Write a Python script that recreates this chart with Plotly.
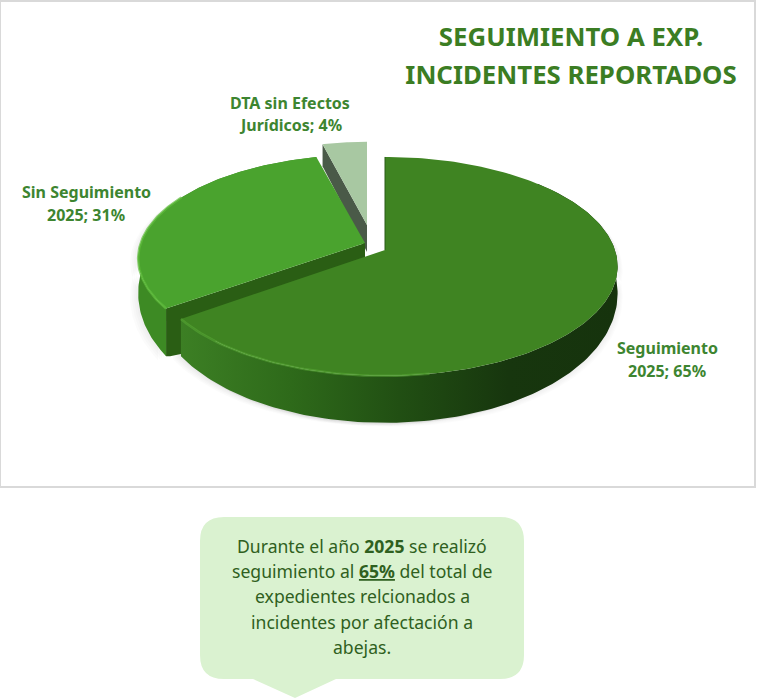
import numpy as np
import plotly.graph_objects as go

categories = ["Seguimiento 2025", "Sin Seguimiento 2025", "DTA sin Efectos Jurídicos"]
values = [65, 31, 4]
label_lines = [["Seguimiento", "2025; 65%"], ["Sin Seguimiento", "2025; 31%"], ["DTA sin Efectos", "Jurídicos; 4%"]]
title_lines = "SEGUIMIENTO A EXP.<br>INCIDENTES REPORTADOS"
note_lines = [
    "Durante el año <b>2025</b> se realizó",
    "seguimiento al <b><u>65%</u></b> del total de",
    "expedientes relcionados a",
    "incidentes por afectación a",
    "abejas.",
]

GREEN = "#3b7d23"
LABEL_GREEN = "#3d8530"
FONT = "Noto Sans"
AX, BY, K = 230.0, 107.0, 0.15


def rim(theta, cx, cy, sx=1.0, sy=1.0, depth=0.0):
    u, v = np.sin(theta), np.cos(theta)
    w = 1 + K * v
    x = cx + sx * AX * u / w
    y = cy - sy * BY * v / w
    if depth:
        y = y + depth * (0.5 - 0.5 * v)
    return x, y


def poly(x, y, color=None, opacity=1.0, gradient=None):
    kw = dict(x=np.asarray(x), y=np.asarray(y), mode="lines", line=dict(width=0), fill="toself",
              hoverinfo="skip", showlegend=False, opacity=opacity)
    if gradient:
        kw["fillgradient"] = dict(type="horizontal", colorscale=gradient)
    else:
        kw["fillcolor"] = color
    return go.Scatter(**kw)


def edge(x, y, color, width):
    return go.Scatter(x=x, y=y, mode="lines", line=dict(color=color, width=width),
                      hoverinfo="skip", showlegend=False)


total = sum(values)
fr = np.cumsum([0] + values) / total * 2 * np.pi
fig = go.Figure()
D = 47.0
DS = 60.0

# geometry of each slice (exploded apex and scale)
main = dict(cx=385.0, cy=250.0)
sin_ = dict(cx=365.0, cy=243.0, sx=0.975, sy=0.95)
dta = dict(cx=367.0, cy=232.0, sx=0.89, sy=0.97)

th_m = np.linspace(fr[0], fr[1], 200)
th_s = np.linspace(fr[1], fr[2], 120)
th_d = np.linspace(fr[2], fr[3], 30)

# soft shadows
mx, my = rim(th_m, **main)
bx, by = rim(th_m, depth=D, **main)
sil_x = np.r_[main["cx"], mx, bx[::-1]]
sil_y = np.r_[main["cy"], my, by[::-1]]
for k in (2, 4, 6, 8, 10):
    fig.add_trace(poly(sil_x - k * 0.8, sil_y + k * 0.3, "#808080", 0.035))
    fig.add_trace(poly(sil_x + k * 0.5, sil_y + k * 0.4, "#808080", 0.025))
sx_, sy_ = rim(th_s, **sin_)
sbx, sby = rim(th_s, depth=DS, **sin_)
for k in (2, 4, 6, 8):
    fig.add_trace(poly(np.r_[sx_, sbx[::-1]] - k, np.r_[sy_, sby[::-1]] + k * 0.5, "#808080", 0.03))

# DTA slice: hidden wall, then top
dx, dy = rim(th_d, **dta)
w0x, w0y = rim(np.array([fr[2]]), **dta)
wall_x = [w0x[0], dta["cx"], dta["cx"], w0x[0]]
wall_y = [w0y[0], dta["cy"] - 7, dta["cy"] + 20, w0y[0] + 22]
fig.add_trace(poly(wall_x, wall_y, "#4a5a48"))
fig.add_trace(poly(np.r_[dta["cx"], dx], np.r_[dta["cy"] - 7, dy], "#a8c8a2"))

# Sin Seguimiento slice: outer wall, radial wall, top
fig.add_trace(poly(np.r_[sx_, sbx[::-1]], np.r_[sy_, sby[::-1]],
                   gradient=[[0, "#3d8a24"], [1, "#3d8a24"]]))
c0x, c0y = rim(np.array([fr[1]]), **sin_)
c0bx, c0by = rim(np.array([fr[1]]), depth=DS, **sin_)
fig.add_trace(poly([c0x[0], sin_["cx"], sin_["cx"], c0bx[0] + 28, c0bx[0] + 4, c0bx[0]],
                   [c0y[0], sin_["cy"], sin_["cy"] + 25, c0by[0] - 5, c0by[0], c0by[0]],
                   "#2a5e14"))
fig.add_trace(poly(np.r_[sin_["cx"], sx_], np.r_[sin_["cy"], sy_], "#4aa32e"))
fig.add_trace(edge(sx_[:70], sy_[:70], "rgba(95,190,60,0.7)", 2.5))

# Seguimiento slice: outer wall, top
fig.add_trace(poly(np.r_[mx[40:], bx[40:][::-1]], np.r_[my[40:], by[40:][::-1]],
                   gradient=[[0, "#3c7f24"], [0.25, "#2e6a1a"], [0.5, "#214f13"], [0.75, "#17360e"], [1, "#16330d"]]))
fig.add_trace(poly(np.r_[main["cx"], mx], np.r_[main["cy"], my], "#3f8422"))
fig.add_trace(edge(mx[145:], my[145:], "rgba(90,170,55,0.55)", 2.5))
fig.add_trace(edge([main["cx"], main["cx"]], [main["cy"], my[0]], "#2b5a18", 1))

# text
for name, lines, xc, ys in [
    (categories[0], label_lines[0], 667, (348, 371)),
    (categories[1], label_lines[1], 86, (192, 215)),
    (categories[2], label_lines[2], 290, (103, 125)),
]:
    for s, yc in zip(lines, ys):
        fig.add_annotation(x=xc, y=yc, text=f"<b>{s}</b>", showarrow=False, xanchor="center", yanchor="middle",
                           font=dict(family=FONT, size=16, color=LABEL_GREEN))

for s, yc in zip(note_lines, (546, 571, 596, 622, 647)):
    fig.add_annotation(x=362, y=yc, text=s, showarrow=False, xanchor="center", yanchor="middle",
                       font=dict(family=FONT, size=17.6, color="#2f6020"))

callout = ("M 224 517 L 500 517 Q 524 517 524 541 L 524 655 Q 524 679 500 679 L 336 679 L 295 698 L 253 679 "
           "L 224 679 Q 200 679 200 655 L 200 541 Q 200 517 224 517 Z")

fig.update_layout(
    width=757, height=700, autosize=False, margin=dict(l=0, r=0, t=0, b=0),
    paper_bgcolor="#ffffff", plot_bgcolor="#ffffff", showlegend=False,
    title=dict(text=f"<b><span style='font-size:25.8px'>{title_lines}</span></b>", x=571 / 757, xanchor="center",
               y=1 - 46 / 700, yanchor="middle", font=dict(family=FONT, size=29, color=GREEN)),
    xaxis=dict(range=[0, 757], visible=False, fixedrange=True),
    yaxis=dict(range=[700, 0], visible=False, fixedrange=True),
    shapes=[
        dict(type="rect", xref="x", yref="y", x0=0, x1=755, y0=1, y1=487, line=dict(color="#d9d9d9", width=2),
             fillcolor="rgba(0,0,0,0)", layer="below"),
        dict(type="path", xref="x", yref="y", path=callout, fillcolor="#daf2d0", line=dict(width=0), layer="below"),
    ],
)
fig.write_html("out.html", config={"displayModeBar": False},
               post_script="document.body.style.margin='0';document.documentElement.style.overflow='hidden';")
